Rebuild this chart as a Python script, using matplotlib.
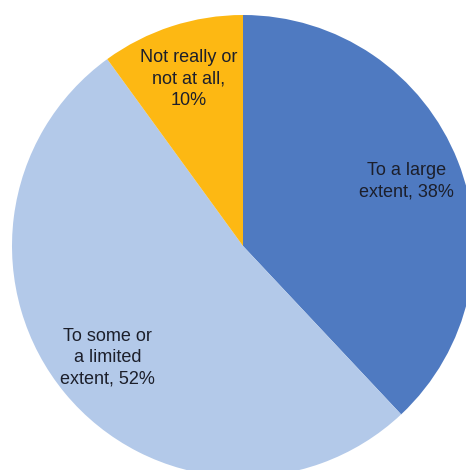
import matplotlib

matplotlib.use("Agg")
import matplotlib.pyplot as plt

categories = ["To a large extent", "To some or a limited extent", "Not really or not at all"]
values = [38, 52, 10]
labels = ["To a large\nextent, 38%", "To some or\na limited\nextent, 52%", "Not really or\nnot at all,\n10%"]
colors = ["#4F7AC1", "#B3C9E9", "#FDB813"]

W, H = 466, 470
cx, cy, r = 243, 246, 231

fig = plt.figure(figsize=(W / 100, H / 100), dpi=100)
ax = fig.add_axes([(cx - r) / W, (H - cy - r) / H, 2 * r / W, 2 * r / H])
wedges, texts = ax.pie(
    values,
    labels=labels,
    colors=colors,
    startangle=90,
    counterclock=False,
    labeldistance=0.76,
    radius=1,
    wedgeprops={"linewidth": 0},
    textprops={"ha": "center", "va": "center", "fontsize": 13,
               "color": "#1c1f2b", "family": "Liberation Sans",
               "linespacing": 1.35},
)
ax.set_xlim(-1, 1)
ax.set_ylim(-1, 1)
ax.set_aspect("auto")
ax.axis("off")
fig.savefig("out.png", dpi=100)
